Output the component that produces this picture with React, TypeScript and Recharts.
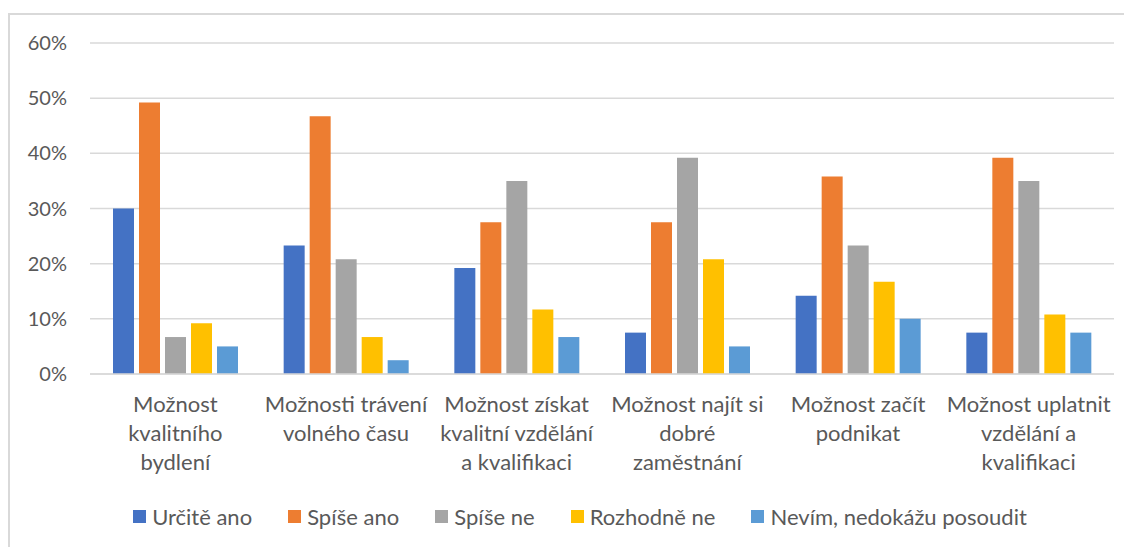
import { BarChart, Bar, XAxis, YAxis, CartesianGrid, Legend } from "recharts";

const categories = [
  "Možnost\nkvalitního\nbydlení",
  "Možnosti trávení\nvolného času",
  "Možnost získat\nkvalitní vzdělání\na kvalifikaci",
  "Možnost najít si\ndobré\nzaměstnání",
  "Možnost začít\npodnikat",
  "Možnost uplatnit\nvzdělání a\nkvalifikaci",
];

const seriesNames = ["Určitě ano", "Spíše ano", "Spíše ne", "Rozhodně ne", "Nevím, nedokážu posoudit"];
const colors = ["#4472C4", "#ED7D31", "#A5A5A5", "#FFC000", "#5B9BD5"];

const urciteAno = [30, 23.3, 19.2, 7.5, 14.2, 7.5];
const spiseAno = [49.2, 46.7, 27.5, 27.5, 35.8, 39.2];
const spiseNe = [6.7, 20.8, 35, 39.2, 23.3, 35];
const rozhodneNe = [9.2, 6.7, 11.7, 20.8, 16.7, 10.8];
const nevim = [5, 2.5, 6.7, 5, 10, 7.5];

const yTicks = [0, 10, 20, 30, 40, 50, 60];

const seriesValues = [urciteAno, spiseAno, spiseNe, rozhodneNe, nevim];

const data = categories.map((name, i) => {
  const row: Record<string, any> = { name };
  seriesNames.forEach((s, k) => {
    row[s] = seriesValues[k][i];
  });
  return row;
});

const FONT = "Lato, 'Open Sans', sans-serif";
const TEXT = "#595959";

const CategoryTick = (props: any) => {
  const { x, y, payload } = props;
  const lines = String(payload.value).split("\n");
  return (
    <text x={x} y={y} textAnchor="middle" fill={TEXT} fontSize={22} fontFamily={FONT}>
      {lines.map((l, i) => (
        <tspan key={i} x={x} dy={i === 0 ? 38 : 29}>
          {l}
        </tspan>
      ))}
    </text>
  );
};

const renderLegend = () => (
  <div
    style={{
      display: "flex",
      justifyContent: "center",
      paddingLeft: 18,
      fontFamily: FONT,
      fontSize: 22,
      color: TEXT,
      height: 30,
      alignItems: "center",
    }}
  >
    {seriesNames.map((s, i) => (
      <div key={s} style={{ display: "flex", alignItems: "center", marginRight: i < seriesNames.length - 1 ? 36 : 0 }}>
        <span style={{ width: 13, height: 13, background: colors[i], marginRight: 6, display: "inline-block" }} />
        <span>{s}</span>
      </div>
    ))}
  </div>
);

export default function App() {
  return (
    <div
      style={{
        marginTop: 5,
        width: 1124,
        height: 534,
        borderTop: "2px solid #d9d9d9",
        borderLeft: "2px solid #d9d9d9",
        boxSizing: "border-box",
      }}
    >
      <BarChart
        width={1122}
        height={532}
        data={data}
        margin={{ top: 28, right: 18, left: 0, bottom: 0 }}
        barSize={21}
        barGap={5}
      >
        <CartesianGrid vertical={false} stroke="#d9d9d9" strokeWidth={1.5} />
        <XAxis
          dataKey="name"
          interval={0}
          tick={<CategoryTick />}
          tickLine={false}
          tickSize={0}
          tickMargin={0}
          axisLine={{ stroke: "#d9d9d9", strokeWidth: 1.5 }}
          height={143}
        />
        <YAxis
          domain={[0, 60]}
          ticks={yTicks}
          tickFormatter={(v: number) => `${v}%`}
          axisLine={false}
          tickLine={false}
          tickSize={0}
          tickMargin={23}
          width={80}
          tick={{ fill: TEXT, fontSize: 20, fontFamily: FONT }}
        />
        <Legend
          verticalAlign="bottom"
          content={renderLegend}
          wrapperStyle={{ height: 30, left: 0, width: 1122, bottom: 16 }}
        />
        {seriesNames.map((s, i) => (
          <Bar key={s} dataKey={s} fill={colors[i]} isAnimationActive={false} />
        ))}
      </BarChart>
    </div>
  );
}
